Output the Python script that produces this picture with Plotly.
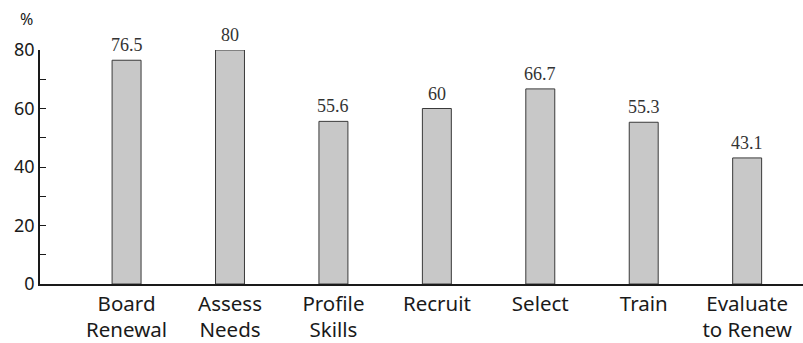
import plotly.graph_objects as go

categories = ["Board<br>Renewal", "Assess<br>Needs", "Profile<br>Skills", "Recruit",
              "Select", "Train", "Evaluate<br>to Renew"]
values = [76.5, 80, 55.6, 60, 66.7, 55.3, 43.1]
value_labels = ["76.5", "80", "55.6", "60", "66.7", "55.3", "43.1"]
y_tick_vals = [0, 10, 20, 30, 40, 50, 60, 70, 80]
y_tick_text = ["0", "", "20", "", "40", "", "60", "", "80"]

x_pos = list(range(len(categories)))

fig = go.Figure()
fig.add_trace(go.Bar(
    x=x_pos,
    y=values,
    width=0.28,
    marker=dict(color="#c8c8c8", line=dict(color="#3a3a3a", width=1)),
    hoverinfo="skip",
))

# value labels above each bar
for xi, v, lab in zip(x_pos, values, value_labels):
    fig.add_annotation(
        x=xi, y=v, text=lab, showarrow=False,
        xanchor="center", yanchor="bottom", yshift=3,
        font=dict(family="Liberation Serif", size=18, color="#333333"),
    )

fig.update_layout(
    width=803, height=343,
    margin=dict(l=40, r=0, t=50, b=59),
    plot_bgcolor="white", paper_bgcolor="white",
    showlegend=False,
)
fig.update_xaxes(
    range=[-0.837, 6.54],
    tickvals=x_pos,
    ticktext=categories,
    ticks="",
    showline=True, linecolor="#1a1a1a", linewidth=2,
    showgrid=False, zeroline=False,
    tickfont=dict(family="Noto Sans", size=20.5, color="#1a1a1a"),
)
fig.update_yaxes(
    range=[0, 80],
    tickvals=y_tick_vals, ticktext=y_tick_text,
    ticks="inside", ticklen=6, tickcolor="#1a1a1a", tickwidth=1,
    showline=True, linecolor="#1a1a1a", linewidth=1.5,
    showgrid=False, zeroline=False,
    tickfont=dict(family="Noto Sans", size=18, color="#1a1a1a"),
)
fig.add_annotation(
    text="%", xref="paper", yref="paper", x=-0.018, y=1.0,
    xanchor="center", yanchor="bottom", yshift=18, showarrow=False,
    font=dict(family="Noto Sans", size=16, color="#1a1a1a"),
)

fig.write_html("out.html")
